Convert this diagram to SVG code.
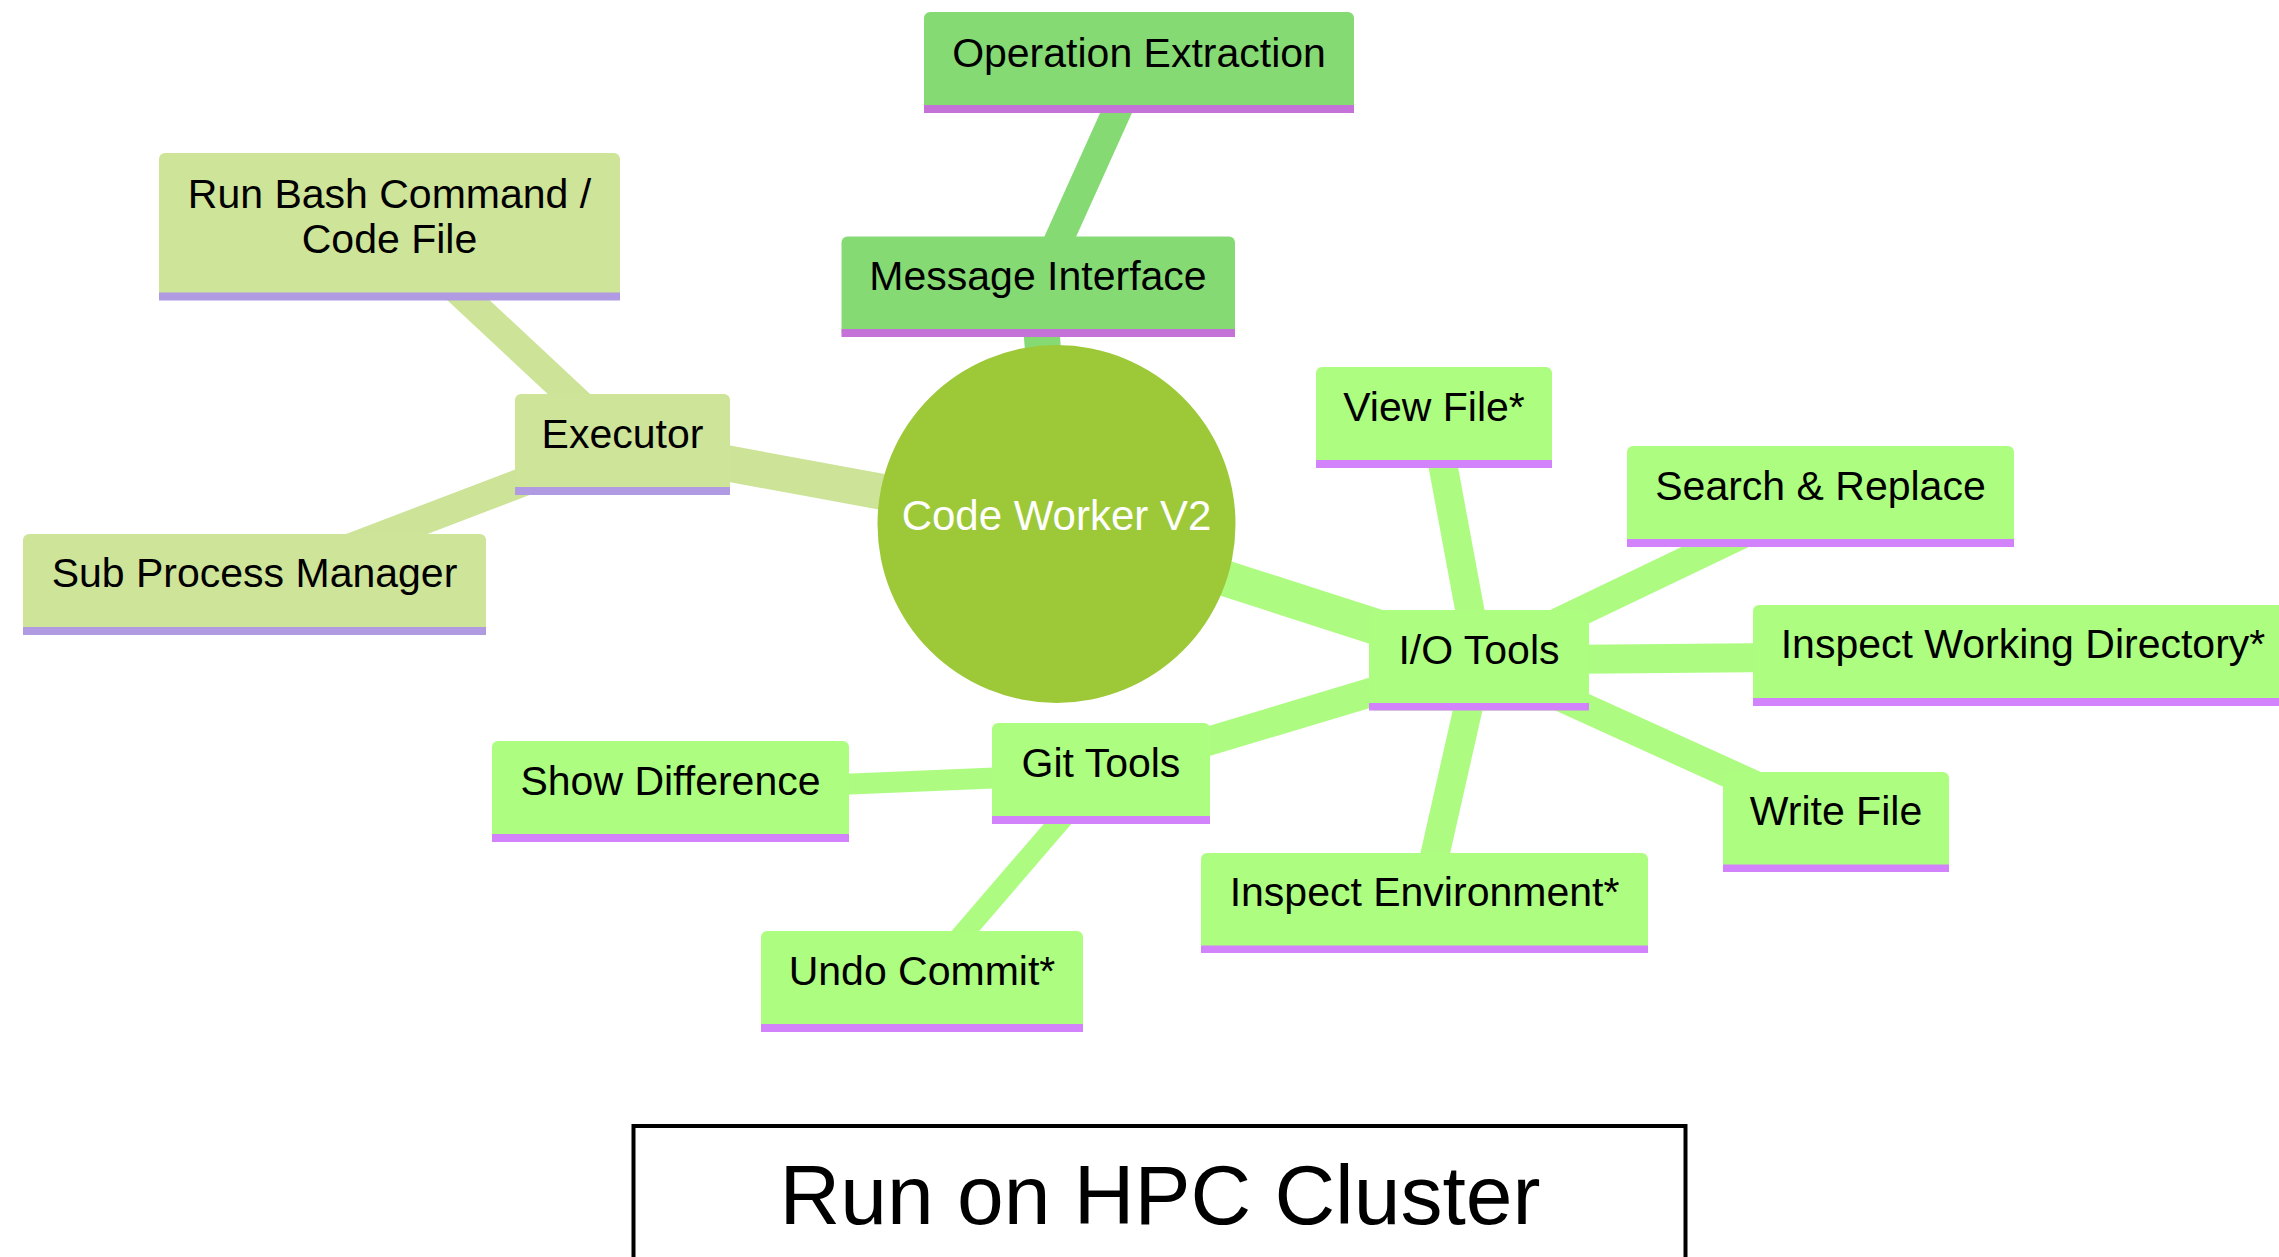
<svg xmlns="http://www.w3.org/2000/svg" width="2279" height="1257" viewBox="0 0 2279 1257">
  <style>
    text { font-family: "Liberation Sans", Arial, Helvetica, sans-serif; }
    .lbl { font-size: 41px; fill: #000; text-anchor: middle; }
    .root-lbl { font-size: 42px; fill: #fff; text-anchor: middle; }
    .edge { fill: none; stroke-linecap: butt; }
    .e0 { stroke: #cde498; }
    .e1 { stroke: #86da74; }
    .e2 { stroke: #adfc81; }
    .d1 { stroke-width: 36; }
    .d2 { stroke-width: 29; }
    .d3 { stroke-width: 21; }
    .bg0 { fill: #cee499; }
    .bg1 { fill: #86da74; }
    .bg2 { fill: #adfd81; }
    .ul0 { fill: #b09be2; }
    .ul1 { fill: #c472d7; }
    .ul2 { fill: #d283fc; }
  </style>

  <rect width="2279" height="1257" fill="#ffffff"/>

  <!-- connectors, drawn centre to centre beneath the nodes -->
  <g id="connectors">
    <line class="edge e0 d1" x1="1056.5" y1="524" x2="622.5" y2="444"/>
    <line class="edge e0 d2" x1="622.5" y1="444" x2="389.5" y2="226.5"/>
    <line class="edge e0 d2" x1="622.5" y1="444" x2="254.5" y2="584.5"/>

    <line class="edge e1 d1" x1="1056.5" y1="524" x2="1038" y2="286"/>
    <line class="edge e1 d2" x1="1038" y1="286" x2="1139" y2="62"/>

    <line class="edge e2 d1" x1="1056.5" y1="524" x2="1479" y2="660"/>
    <line class="edge e2 d2" x1="1479" y1="660" x2="1434" y2="417"/>
    <line class="edge e2 d2" x1="1479" y1="660" x2="1820.5" y2="496.5"/>
    <line class="edge e2 d2" x1="1479" y1="660" x2="2023" y2="655.5"/>
    <line class="edge e2 d2" x1="1479" y1="660" x2="1836" y2="822"/>
    <line class="edge e2 d2" x1="1479" y1="660" x2="1424" y2="903"/>
    <line class="edge e2 d2" x1="1479" y1="660" x2="1101" y2="773.5"/>
    <line class="edge e2 d3" x1="1101" y1="773.5" x2="670.5" y2="791.5"/>
    <line class="edge e2 d3" x1="1101" y1="773.5" x2="922" y2="981.5"/>
  </g>

  <!-- root -->
  <g id="root">
    <circle cx="1056.5" cy="524" r="179" fill="#9dc938"/>
    <text class="root-lbl" x="1056.5" y="530">Code Worker V2</text>
  </g>

  <!-- Executor branch -->
  <g id="executor">
    <rect class="bg0" x="515" y="394" width="215" height="101" rx="6"/>
    <rect class="ul0" x="515" y="487" width="215" height="8"/>
    <text class="lbl" x="622.5" y="448">Executor</text>
  </g>
  <g id="run-bash">
    <rect class="bg0" x="159" y="153" width="461" height="147" rx="6"/>
    <rect class="ul0" x="159" y="292.5" width="461" height="8"/>
    <text class="lbl" x="389.5" y="208">Run Bash Command /</text>
    <text class="lbl" x="389.5" y="253">Code File</text>
  </g>
  <g id="sub-process">
    <rect class="bg0" x="23" y="534" width="463" height="101" rx="6"/>
    <rect class="ul0" x="23" y="627" width="463" height="8"/>
    <text class="lbl" x="254.5" y="587">Sub Process Manager</text>
  </g>

  <!-- Message branch -->
  <g id="message-interface">
    <rect class="bg1" x="841.5" y="236.5" width="393.5" height="100.5" rx="6"/>
    <rect class="ul1" x="841.5" y="329" width="393.5" height="8"/>
    <text class="lbl" x="1038" y="290">Message Interface</text>
  </g>
  <g id="operation-extraction">
    <rect class="bg1" x="924" y="12" width="430" height="101" rx="6"/>
    <rect class="ul1" x="924" y="105" width="430" height="8"/>
    <text class="lbl" x="1139" y="67">Operation Extraction</text>
  </g>

  <!-- I/O branch -->
  <g id="io-tools">
    <rect class="bg2" x="1369" y="610" width="220" height="100.5" rx="6"/>
    <rect class="ul2" x="1369" y="703" width="220" height="7.5"/>
    <text class="lbl" x="1479" y="664">I/O Tools</text>
  </g>
  <g id="view-file">
    <rect class="bg2" x="1316" y="367" width="236" height="101" rx="6"/>
    <rect class="ul2" x="1316" y="460" width="236" height="8"/>
    <text class="lbl" x="1434" y="421">View File*</text>
  </g>
  <g id="search-replace">
    <rect class="bg2" x="1627" y="446" width="387" height="101" rx="6"/>
    <rect class="ul2" x="1627" y="539" width="387" height="8"/>
    <text class="lbl" x="1820.5" y="500">Search &amp; Replace</text>
  </g>
  <g id="inspect-working-directory">
    <rect class="bg2" x="1753" y="605" width="560" height="101" rx="6"/>
    <rect class="ul2" x="1753" y="698" width="560" height="8"/>
    <text class="lbl" x="2023" y="658">Inspect Working Directory*</text>
  </g>
  <g id="write-file">
    <rect class="bg2" x="1723" y="772" width="226" height="100" rx="6"/>
    <rect class="ul2" x="1723" y="864.5" width="226" height="7.5"/>
    <text class="lbl" x="1836" y="825">Write File</text>
  </g>
  <g id="inspect-environment">
    <rect class="bg2" x="1201" y="853" width="447" height="100" rx="6"/>
    <rect class="ul2" x="1201" y="945.5" width="447" height="7.5"/>
    <text class="lbl" x="1424.5" y="906">Inspect Environment*</text>
  </g>
  <g id="git-tools">
    <rect class="bg2" x="992" y="723" width="218" height="101" rx="6"/>
    <rect class="ul2" x="992" y="816" width="218" height="8"/>
    <text class="lbl" x="1101" y="777">Git Tools</text>
  </g>
  <g id="show-difference">
    <rect class="bg2" x="492" y="741" width="357" height="101" rx="6"/>
    <rect class="ul2" x="492" y="834" width="357" height="8"/>
    <text class="lbl" x="670.5" y="795">Show Difference</text>
  </g>
  <g id="undo-commit">
    <rect class="bg2" x="761" y="931" width="322" height="101" rx="6"/>
    <rect class="ul2" x="761" y="1024" width="322" height="8"/>
    <text class="lbl" x="922" y="985">Undo Commit*</text>
  </g>

  <!-- caption box at the bottom -->
  <g id="hpc-caption">
    <rect x="633.5" y="1126" width="1052" height="200" fill="#ffffff" stroke="#000000" stroke-width="4"/>
    <text x="1160" y="1224" font-size="84" text-anchor="middle" fill="#000">Run on HPC Cluster</text>
  </g>
</svg>
